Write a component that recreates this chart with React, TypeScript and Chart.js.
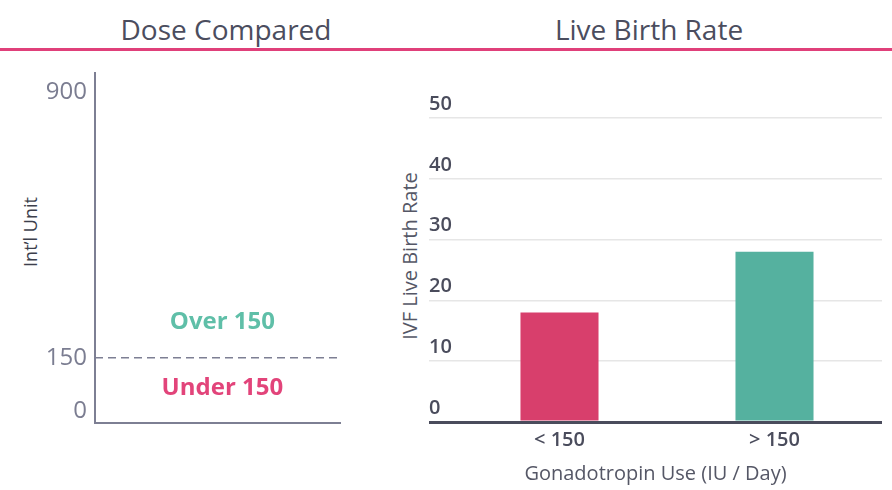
import React, { useEffect, useRef } from "react";
import { Chart, registerables } from "chart.js";

Chart.register(...registerables);

const FONT = "'Open Sans', sans-serif";

// ---- data ----
const panelTitles = ["Dose Compared", "Live Birth Rate"];
const doseAxisTitle = "Int\u2019l Unit";
const doseTicks = [0, 150, 900];
const doseThreshold = 150;
const doseBandLabels = ["Under 150", "Over 150"];
const doseBandValues = [65, 251];
const rateAxisTitle = "IVF Live Birth Rate";
const rateXAxisTitle = "Gonadotropin Use (IU / Day)";
const rateCategories = ["< 150", "> 150"];
const rateValues = [18, 28];
const rateMax = 50;
const rateStep = 10;

// ---- styles ----
const PINK = "#d83f6c";
const TEAL = "#55b19f";
const BAND_COLORS = ["#e2447a", "#5fbfa8"];
const AXIS_GRAY = "#7d7f93";
const DARK = "#4a4c5c";

const bandLabelPlugin = {
  id: "bandLabels",
  afterDatasetsDraw(chart: any) {
    const { ctx, scales } = chart;
    const x = scales.x;
    const y = scales.y;
    ctx.save();
    ctx.font = `700 24px ${FONT}`;
    ctx.textAlign = "center";
    ctx.textBaseline = "middle";
    doseBandLabels.forEach((t, i) => {
      ctx.fillStyle = BAND_COLORS[i];
      ctx.fillText(t, x.getPixelForValue(0.52), y.getPixelForValue(doseBandValues[i]));
    });
    ctx.restore();
  },
};

function DoseChart() {
  const ref = useRef<HTMLCanvasElement | null>(null);
  useEffect(() => {
    if (!ref.current) return;
    const chart = new Chart(ref.current, {
      type: "scatter",
      data: {
        datasets: [
          {
            data: [
              { x: 0, y: doseThreshold },
              { x: 1, y: doseThreshold },
            ],
            showLine: true,
            borderColor: AXIS_GRAY,
            borderWidth: 1.5,
            borderDash: [8, 5],
            pointRadius: 0,
          },
        ],
      },
      options: {
        responsive: false,
        animation: false,
        layout: { padding: { left: 14, top: 33, right: 10, bottom: 25 } },
        plugins: { legend: { display: false }, tooltip: { enabled: false } },
        scales: {
          x: {
            type: "linear",
            min: 0,
            max: 1,
            ticks: { display: false },
            grid: { display: false, drawTicks: false },
            border: { display: true, color: AXIS_GRAY, width: 2 },
          },
          y: {
            type: "linear",
            min: -34,
            max: 954,
            afterFit: (s: any) => {
              s.width = 81;
            },
            afterBuildTicks: (s: any) => {
              s.ticks = doseTicks.map((v) => ({ value: v }));
            },
            ticks: {
              padding: 8,
              color: "#7b7d91",
              font: { size: 24, family: FONT },
            },
            grid: { display: false, drawTicks: false },
            border: { display: true, color: AXIS_GRAY, width: 2 },
          },
        },
      } as any,
      plugins: [bandLabelPlugin],
    });
    return () => chart.destroy();
  }, []);
  return (
    <canvas
      ref={ref}
      width={350}
      height={408}
      style={{ position: "absolute", left: 0, top: 40, width: 350, height: 408 }}
    />
  );
}

function RateChart() {
  const ref = useRef<HTMLCanvasElement | null>(null);
  useEffect(() => {
    if (!ref.current) return;
    const chart = new Chart(ref.current, {
      type: "bar",
      data: {
        labels: rateCategories,
        datasets: [
          {
            data: rateValues,
            backgroundColor: [PINK, TEAL],
            barPercentage: 0.363,
            categoryPercentage: 1,
          },
        ],
      },
      options: {
        responsive: false,
        animation: false,
        layout: { padding: { top: 38, left: 0, right: 0, bottom: 0 } },
        plugins: {
          legend: { display: false },
          tooltip: { enabled: false },
          title: {
            display: true,
            position: "bottom",
            text: rateXAxisTitle,
            color: "#555766",
            font: { size: 20, weight: "normal", family: FONT },
            padding: { top: 4, bottom: 4 },
          },
        },
        scales: {
          x: {
            grid: { display: false, drawTicks: false },
            border: { display: false },
            ticks: {
              color: DARK,
              font: { size: 20, weight: "600", family: FONT },
              padding: 6,
            },
          },
          y: {
            min: 0,
            max: rateMax,
            afterFit: (s: any) => {
              s.width = 23;
            },
            ticks: {
              stepSize: rateStep,
              crossAlign: "far",
              labelOffset: -14,
              padding: 0,
              color: DARK,
              font: { size: 20, weight: "600", family: FONT },
            },
            grid: {
              color: (c: any) => (c.tick && c.tick.value === 0 ? DARK : "#e6e6e6"),
              lineWidth: (c: any) => (c.tick && c.tick.value === 0 ? 3 : 1.5),
              tickLength: 23,
              drawTicks: true,
            },
            border: { display: false },
          },
        },
      } as any,
    });
    return () => chart.destroy();
  }, []);
  return (
    <canvas
      ref={ref}
      width={453}
      height={410}
      style={{ position: "absolute", left: 429, top: 80, width: 453, height: 410 }}
    />
  );
}

const headerStyle = (cx: number): React.CSSProperties => ({
  position: "absolute",
  left: cx,
  top: 10,
  transform: "translateX(-50%)",
  fontSize: 28,
  lineHeight: "38px",
  color: "#4b4d5e",
  whiteSpace: "nowrap",
});

const vTitleStyle = (cx: number, cy: number, size: number, color: string): React.CSSProperties => ({
  position: "absolute",
  left: cx,
  top: cy,
  transform: "translate(-50%, -50%) rotate(-90deg)",
  fontSize: size,
  lineHeight: `${Math.round(size * 1.2)}px`,
  color,
  whiteSpace: "nowrap",
});

export default function App() {
  useEffect(() => {
    Chart.defaults.font.family = FONT;
  }, []);
  return (
    <div
      style={{
        position: "fixed",
        left: 0,
        top: 0,
        width: 892,
        height: 490,
        background: "#ffffff",
        fontFamily: FONT,
        overflow: "hidden",
      }}
    >
      <div style={headerStyle(226)}>{panelTitles[0]}</div>
      <div style={headerStyle(649)}>{panelTitles[1]}</div>
      <div
        style={{ position: "absolute", left: 0, top: 47.5, width: 892, height: 3, background: "#e0407a" }}
      />
      <div style={vTitleStyle(30, 232, 18, "#3d3f4c")}>{doseAxisTitle}</div>
      <div style={vTitleStyle(410, 256, 20, "#555766")}>{rateAxisTitle}</div>
      <DoseChart />
      <RateChart />
    </div>
  );
}
